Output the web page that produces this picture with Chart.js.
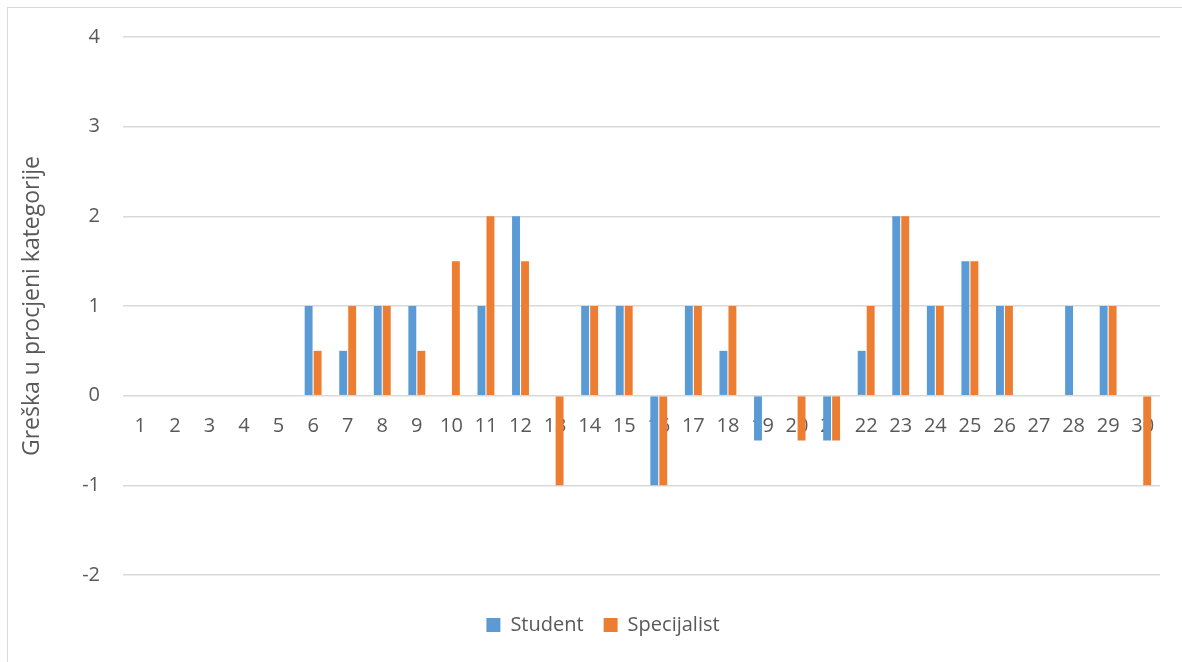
<!DOCTYPE html>
<html>
<head>
<meta charset="utf-8">
<script src="https://cdn.jsdelivr.net/npm/chart.js@4"></script>
<style>
  html, body { margin: 0; padding: 0; background: #fff; overflow: hidden; }
  #wrap { position: relative; width: 1182px; height: 662px; }
  #frame { position: absolute; left: 7px; top: 7px; width: 1200px; height: 700px;
           border: 1.5px solid #d9d9d9; box-sizing: border-box; }
  canvas { position: absolute; left: 0; top: 0; }
</style>
</head>
<body>
<div id="wrap">
  <div id="frame"></div>
  <canvas id="chart" width="1182" height="662"></canvas>
</div>
<script>
// Data
const categories = ["1","2","3","4","5","6","7","8","9","10","11","12","13","14","15",
                    "16","17","18","19","20","21","22","23","24","25","26","27","28","29","30"];
const studentValues =     [0,0,0,0,0, 1, 0.5, 1, 1, 0,   1, 2,   0, 1, 1, -1, 1, 0.5, -0.5, 0,    -0.5, 0.5, 2, 1, 1.5, 1, 0, 1, 1, 0];
const specijalistValues = [0,0,0,0,0, 0.5, 1, 1, 0.5, 1.5, 2, 1.5, -1, 1, 1, -1, 1, 1,   0,   -0.5, -0.5, 1,   2, 1, 1.5, 1, 0, 0, 1, -1];
const yTicks = [-2, -1, 0, 1, 2, 3, 4];

const textColor = "#595959";
const gridColor = "#d9d9d9";
const fontFamily = "'Open Sans', 'Noto Sans', sans-serif";

// nudge the legend a bit to the right, like the original
const legendShift = {
  id: "legendShift",
  afterLayout(chart) {
    if (chart.legend) { chart.legend.left += 23; chart.legend.right += 23; }
  }
};

const ctx = document.getElementById("chart");
new Chart(ctx, {
  type: "bar",
  data: {
    labels: categories,
    datasets: [
      { label: "Student", data: studentValues, backgroundColor: "#5b9bd5" },
      { label: "Specijalist", data: specijalistValues, backgroundColor: "#ed7d31" }
    ]
  },
  plugins: [legendShift],
  options: {
    responsive: false,
    animation: false,
    categoryPercentage: 0.52,
    barPercentage: 0.88,
    layout: { padding: { top: 37, right: 22, bottom: 17, left: 0 } },
    scales: {
      x: {
        position: { y: 0 },
        grid: { display: false, drawTicks: false },
        border: { display: false },
        ticks: { color: textColor, font: { family: fontFamily, size: 20 }, padding: 19,
                 maxRotation: 0, autoSkip: false }
      },
      y: {
        min: yTicks[0],
        max: yTicks[yTicks.length - 1],
        afterBuildTicks: scale => { scale.ticks = yTicks.map(v => ({ value: v })); },
        afterFit: scale => { scale.width = 123; },
        grid: { color: gridColor, lineWidth: 1.5, drawTicks: false },
        border: { display: false },
        ticks: { color: textColor, font: { family: fontFamily, size: 20 }, padding: 23 },
        title: {
          display: true,
          text: "Greška u procjeni kategorije",
          color: textColor,
          font: { family: fontFamily, size: 23 },
          padding: { top: 19, bottom: 0 }
        }
      }
    },
    plugins: {
      legend: {
        position: "bottom",
        title: { display: true, text: " ", font: { size: 10 }, padding: 4 },
        labels: {
          color: textColor,
          font: { family: fontFamily, size: 20 },
          boxWidth: 14,
          boxHeight: 14,
          padding: 20
        }
      },
      tooltip: { enabled: false }
    }
  }
});
</script>
</body>
</html>
